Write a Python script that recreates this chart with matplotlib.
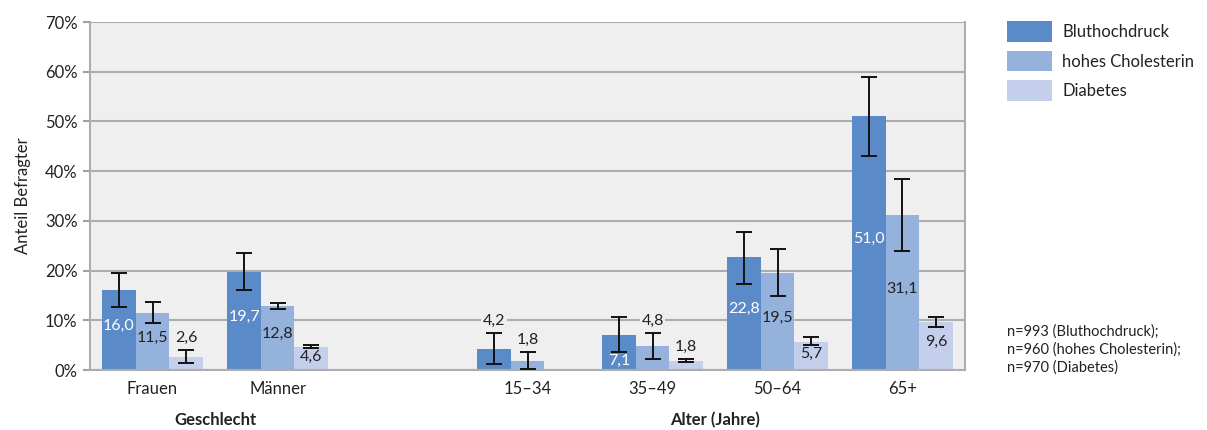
import numpy as np
import matplotlib.pyplot as plt
from matplotlib.patches import Patch

plt.rcParams['font.family'] = ['Lato', 'DejaVu Sans']

categories = ['Frauen', 'Männer', '', '15–34', '35–49', '50–64', '65+']
series = ['Bluthochdruck', 'hohes Cholesterin', 'Diabetes']

blut = [16.0, 19.7, np.nan, 4.2, 7.1, 22.8, 51.0]
blut_lo = [12.7, 16.1, np.nan, 1.2, 3.6, 17.3, 43.1]
blut_hi = [19.5, 23.5, np.nan, 7.4, 10.7, 27.8, 59.0]

chol = [11.5, 12.8, np.nan, 1.8, 4.8, 19.5, 31.1]
chol_lo = [9.5, 12.3, np.nan, 0.2, 2.2, 14.9, 23.9]
chol_hi = [13.7, 13.5, np.nan, 3.6, 7.4, 24.3, 38.4]

diab = [2.6, 4.6, np.nan, np.nan, 1.8, 5.7, 9.6]
diab_lo = [1.4, 4.4, np.nan, np.nan, 1.6, 5.0, 8.7]
diab_hi = [4.0, 5.0, np.nan, np.nan, 2.2, 6.6, 10.7]

colors = ['#5A8AC8', '#95B2DD', '#C4CFEC']
label_colors = ['white', '#222222', '#222222']

fig = plt.figure(figsize=(12.07, 4.30), dpi=100)
ax = fig.add_axes([0.0746, 0.1395, 0.7249, 0.8093])
ax.set_facecolor('#EFEFEF')

x = np.arange(len(categories))
w = 0.268
data = [(blut, blut_lo, blut_hi), (chol, chol_lo, chol_hi), (diab, diab_lo, diab_hi)]
for i, (vals, lo, hi) in enumerate(data):
    vals = np.array(vals)
    lo = np.array(lo)
    hi = np.array(hi)
    xs = x + (i - 1) * w
    ax.bar(xs, vals, width=w, color=colors[i], zorder=2, label=series[i])
    ax.errorbar(xs, vals, yerr=[vals - lo, hi - vals], fmt='none', ecolor='#111111',
                elinewidth=1.4, capsize=5.5, capthick=1.4, zorder=3)
    for xx, v, l, h in zip(xs, vals, lo, hi):
        if np.isnan(v):
            continue
        txt = f'{v:.1f}'.replace('.', ',')
        if l >= 3.5:
            # inside the bar, below the lower error whisker
            yy = min(v / 2 + 0.8, l - 1.8)
            ax.text(xx, yy, txt, ha='center', va='center', fontsize=11.5,
                    color=label_colors[i], zorder=4)
        else:
            yy = h + 2.4
            ax.text(xx, yy, txt, ha='center', va='center', fontsize=11.5,
                    color='#222222', zorder=4,
                    bbox=dict(facecolor='#EFEFEF', edgecolor='none', pad=1))

ax.set_xlim(-0.5, len(categories) - 0.5)
ax.set_ylim(0, 70)
ax.set_yticks(np.arange(0, 71, 10))
ax.set_yticklabels([f'{t}%' for t in range(0, 71, 10)], fontsize=12, color='#222222')
ax.set_xticks(x)
ax.set_xticklabels(categories, fontsize=12, color='#222222')
ax.tick_params(axis='x', length=0, pad=8)
ax.tick_params(axis='y', length=5, color='#A0A0A0', width=1.5, pad=4)
ax.yaxis.grid(True, color='#ADADAD', linewidth=1.5, zorder=1)
ax.set_axisbelow(True)
for s in ['left', 'bottom', 'right', 'top']:
    ax.spines[s].set_color('#ADADAD')
    ax.spines[s].set_linewidth(1.5)
ax.spines['top'].set_visible(False)
ax.set_ylabel('Anteil Befragter', fontsize=12, color='#222222', labelpad=10)

ax.text(0.5, -0.145, 'Geschlecht', transform=ax.get_xaxis_transform(), ha='center',
        va='center', fontsize=12, fontweight='bold', color='#222222')
ax.text(4.5, -0.145, 'Alter (Jahre)', transform=ax.get_xaxis_transform(), ha='center',
        va='center', fontsize=12, fontweight='bold', color='#222222')

handles = [Patch(facecolor=c, edgecolor='none') for c in colors]
fig.legend(handles, series, loc='upper left', bbox_to_anchor=(0.822, 0.985), frameon=False,
           fontsize=12, handlelength=2.7, handleheight=1.5, handletextpad=0.6,
           labelspacing=0.55, labelcolor='#222222')

fig.text(0.834, 0.245, 'n=993 (Bluthochdruck);\nn=960 (hohes Cholesterin);\nn=970 (Diabetes)',
         ha='left', va='top', fontsize=10.5, color='#222222', linespacing=1.3)

fig.savefig('out.png', dpi=100)
